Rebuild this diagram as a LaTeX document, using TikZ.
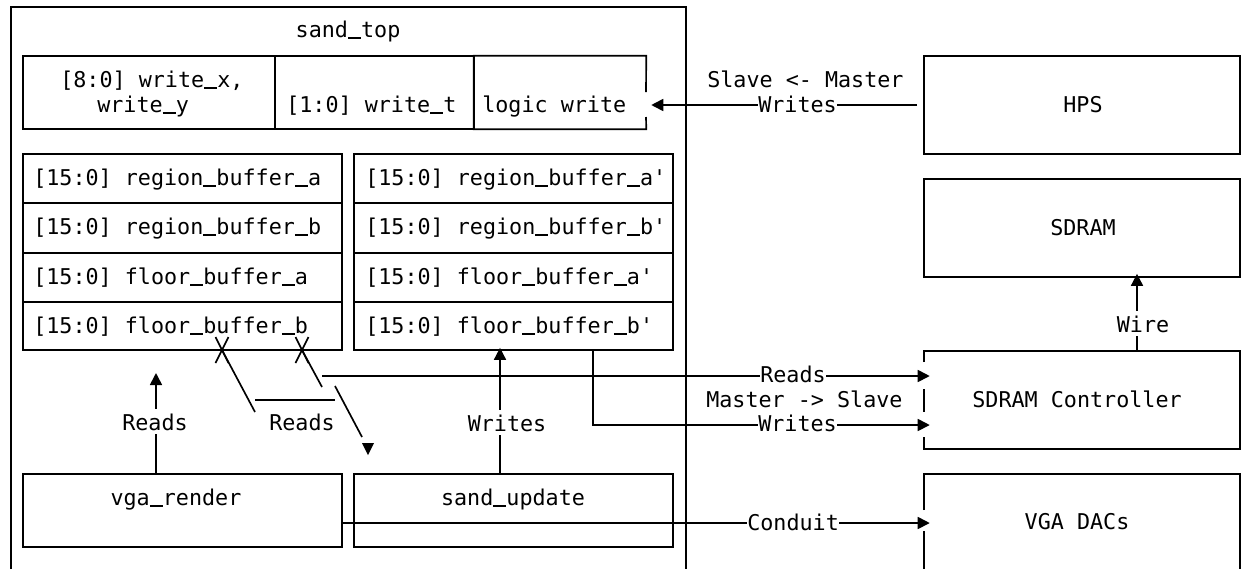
\documentclass[tikz,border=0pt]{standalone}
\usepackage{fontspec}
\setmonofont{DejaVu Sans Mono}
\usetikzlibrary{arrows.meta,fit}
\newcommand\mfont{\ttfamily\fontsize{16.3}{19.5}\selectfont}
\newcommand\us{\rule[-0.07em]{0.602em}{0.08em}}
\begin{document}
\begin{tikzpicture}[x=0.75pt,y=-0.75pt,
  ln/.style={line width=1.25pt},
  bx/.style={draw, line width=1.25pt, inner sep=0pt},
  arr/.style={line width=1.25pt, -{Triangle[length=9pt,width=9pt]}},
  txt/.style={inner sep=0pt, font=\mfont},
  lbl/.style={txt, fill=white, inner ysep=2pt}]
\useasboundingbox (0,0) rectangle (1241,569);
% outer sand_top frame
\draw[ln] (11,569) -- (11,7) -- (686,7) -- (686,569);
\node[txt, anchor=base] (title) at (348,37) {sand\us top};
% top row
\node[bx, fit={(23,56) (275,129)}] (cxy) {};
\node[bx, fit={(275,56) (474,129)}] (ct) {};
\node[fit={(474,56) (646,129)}, inner sep=0pt] (cw) {};
\draw[ln] (646,92) -- (cw.north east) -- (cw.north west) -- (cw.south west) -- (cw.south east) -- (646,117);
\node[txt, anchor=base west] (txy1) at (60,87) {[8:0] write\us x,};
\node[txt, anchor=base west] (txy2) at (97,112) {write\us y};
\node[txt, anchor=base west] (tt) at (286,112) {[1:0] write\us t};
\node[txt, anchor=base west] (tw) at (482,112) {logic write};
% right side boxes
\node[bx, fit={(924,56) (1240,154)}] (hps) {};
\node[txt, anchor=base] (thps) at (1083,112) {HPS};
\node[bx, fit={(924,179) (1240,277)}] (sdram) {};
\node[txt, anchor=base] (tsdram) at (1083,235) {SDRAM};
\node[fit={(924,351) (1240,449)}, inner sep=0pt] (sdc) {};
\draw[ln] (924,362) -- (924,351) -- (1240,351) -- (1240,449) -- (924,449) -- (924,437);
\draw[ln] (924,389) -- (924,412);
\node[txt, anchor=base] (tsdc) at (1077,407) {SDRAM Controller};
\node[fit={(924,474) (1240,569)}, inner sep=0pt] (dac) {};
\draw[ln] (924,510) -- (924,474) -- (1240,474) -- (1240,569);
\draw[ln] (924,531) -- (924,569);
\node[txt, anchor=base] (tdac) at (1077,529) {VGA DACs};
% buffers
\foreach \i/\ya/\yb in {1/154/203, 2/203/253, 3/253/302, 4/302/350} {
  \node[bx, fit={(23,\ya) (342,\yb)}] (bl\i) {};
  \node[bx, fit={(354,\ya) (673,\yb)}] (br\i) {};
}
\node[txt, anchor=base west] (tbl1) at (33,185) {[15:0] region\us buffer\us a};
\node[txt, anchor=base west] (tbl2) at (33,234) {[15:0] region\us buffer\us b};
\node[txt, anchor=base west] (tbl3) at (33,284) {[15:0] floor\us buffer\us a};
\node[txt, anchor=base west] (tbl4) at (33,333) {[15:0] floor\us buffer\us b};
\node[txt, anchor=base west] (tbr1) at (365,185) {[15:0] region\us buffer\us a'};
\node[txt, anchor=base west] (tbr2) at (365,234) {[15:0] region\us buffer\us b'};
\node[txt, anchor=base west] (tbr3) at (365,284) {[15:0] floor\us buffer\us a'};
\node[txt, anchor=base west] (tbr4) at (365,333) {[15:0] floor\us buffer\us b'};
% bottom modules
\node[bx, fit={(23,474) (342,547)}] (vga) {};
\node[txt, anchor=base] (tvga) at (176,505) {vga\us render};
\node[bx, fit={(354,474) (673,547)}] (su) {};
\node[txt, anchor=base] (tsu) at (513,505) {sand\us update};
% HPS -> logic write
\coordinate (yw) at (0,105);
\draw[arr, shorten <=4.5pt, shorten >=3.75pt] (hps.west |- yw) -- (cw.east |- yw);
\node[lbl, anchor=base west] (lw1) at (758,112) {Writes};
\node[txt, anchor=base west] (lsm) at (707,87) {Slave <- Master};
% Reads -> SDRAM Controller
\coordinate (sdcin) at ([xshift=4.5pt]sdc.west);
\coordinate (dacin) at ([xshift=4.5pt]dac.west);
\coordinate (rd) at (322,376);
\draw[arr] (rd) -- (sdcin |- rd);
\node[lbl, anchor=base west] (lr1) at (760,382) {Reads};
\node[txt, anchor=base west] (lms) at (706,407) {Master -> Slave};
% Writes -> SDRAM Controller
\coordinate (wr) at (593,0);
\coordinate (wy) at (0,425);
\draw[arr] (br4.south -| wr) |- (sdcin |- wy);
\node[lbl, anchor=base west] (lw2) at (758,431) {Writes};
% Conduit
\coordinate (cy) at (0,523);
\draw[arr] (vga.east |- cy) -- (dacin |- cy);
\node[lbl, anchor=base west] (lc) at (747,530) {Conduit};
% Wire
\coordinate (wx) at (1137,0);
\coordinate (sdramin) at ([yshift=3pt]sdram.south);
\draw[arr] (sdc.north -| wx) -- (sdramin -| wx);
\node[lbl, anchor=base, inner ysep=3pt] (lwire) at (1143,332) {Wire};
% vga_render reads
\coordinate (vr) at (156,373);
\draw[arr] (vga.north -| vr) -- (vr);
\node[lbl, anchor=base, inner ysep=3pt] (lr2) at (155,430) {Reads};
% sand_update writes
\coordinate (sw) at (500,0);
\coordinate (brin) at ([yshift=2.25pt]br4.south);
\draw[arr] (su.north -| sw) -- (brin -| sw);
\node[lbl, anchor=base, inner ysep=3pt] (lw3) at (507,431) {Writes};
% crossings and diagonal reads
\draw[ln] (215.5,337) -- (228.5,363) (228.5,337) -- (215.5,363);
\draw[ln] (222,350) -- (255,412);
\draw[ln] (295.5,337) -- (308.5,363) (308.5,337) -- (295.5,363);
\draw[ln] (302,350) -- (322,387);
\draw[ln] (255,400) -- (335,400);
\draw[ln] (335,386) -- (362,437);
\fill (362,443) -- (374,443) -- (368,455) -- cycle;
\node[txt, anchor=base] (lr3) at (302,430) {Reads};
\end{tikzpicture}
\end{document}
